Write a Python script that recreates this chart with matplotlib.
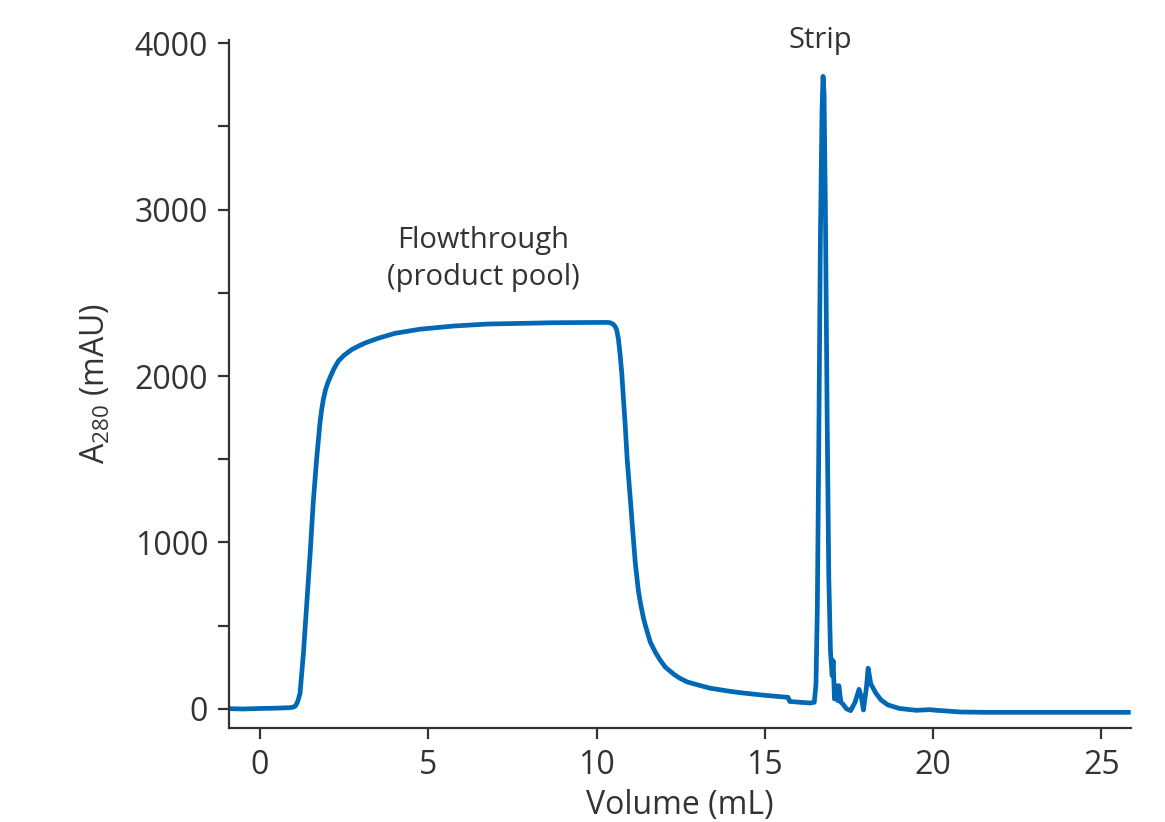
import matplotlib
matplotlib.use('Agg')
import matplotlib.pyplot as plt
from matplotlib.ticker import MultipleLocator

# traced chromatogram: volume (mL) and A280 (mAU)
volume = [-0.92, -0.5, 0.0, 0.5, 0.9, 1.0, 1.06, 1.12, 1.19, 1.29, 1.39, 1.49, 1.58, 1.68,
          1.78, 1.83, 1.88, 1.95, 2.02, 2.1, 2.2, 2.33, 2.5, 2.72, 2.95, 3.12, 3.5, 4.0,
          4.75, 5.74, 6.74, 7.73, 8.72, 9.5, 10.3, 10.38, 10.45, 10.5, 10.55, 10.60,
          10.65, 10.70, 10.75, 10.80, 10.85, 10.91, 11.0, 11.06, 11.15, 11.24, 11.3,
          11.4, 11.49, 11.6, 11.75, 11.89, 12.05, 12.3, 12.48, 12.7, 13.0, 13.37, 14.0,
          14.35, 15.0, 15.69, 15.74, 16.34, 16.47, 16.52, 16.56, 16.60, 16.65, 16.70,
          16.73, 16.76, 16.80, 16.85, 16.90, 16.95, 17.00, 17.03, 17.07, 17.12, 17.17,
          17.20, 17.26, 17.32, 17.42, 17.55, 17.68, 17.80, 17.87, 17.93, 18.02, 18.07,
          18.15, 18.30, 18.45, 18.65, 19.0, 19.5, 19.9, 20.1, 20.4, 20.8, 21.5, 23.0,
          25.8]
a280 = [2, 0, 3, 5, 8, 12, 20, 45, 94, 334, 634, 935, 1235, 1495,
        1716, 1795, 1858, 1920, 1962, 2000, 2045, 2090, 2125, 2158, 2182, 2198, 2226, 2256,
        2281, 2300, 2312, 2316, 2320, 2321, 2322, 2321, 2316, 2310, 2298, 2276,
        2222, 2130, 2016, 1860, 1710, 1500, 1270, 1110, 880, 715, 640,
        540, 474, 400, 340, 294, 250, 208, 184, 162, 145, 125, 105,
        96, 82, 70, 45, 36, 40, 150, 600, 1500, 2800, 3600,
        3800, 3700, 3000, 1800, 800, 350, 200, 290, 60, 140, 50,
        140, 40, 30, 2, -10, 40, 118, 70, -6, 130, 245,
        150, 95, 55, 25, 3, -8, -4, -8, -12, -18, -20, -20,
        -20]

blue = '#0068b5'
ink = '#333333'
plt.rcParams['font.family'] = ['Open Sans', 'DejaVu Sans']
plt.rcParams['mathtext.fontset'] = 'custom'
plt.rcParams['mathtext.rm'] = 'Open Sans'

fig = plt.figure(figsize=(11.65, 8.22), dpi=100)
ax = fig.add_axes([0.1966, 0.1144, 0.7742, 0.8369])
ax.plot(volume, a280, color=blue, linewidth=3.4, solid_joinstyle='round')

ax.set_xlim(-0.92, 25.88)
ax.set_ylim(-114, 4018)
ax.set_xticks([0, 5, 10, 15, 20, 25])
ax.set_yticks([0, 1000, 2000, 3000, 4000])
ax.yaxis.set_minor_locator(MultipleLocator(500))

for s in ['top', 'right']:
    ax.spines[s].set_visible(False)
for s in ['left', 'bottom']:
    ax.spines[s].set_color(ink)
    ax.spines[s].set_linewidth(1.6)

ax.tick_params(which='both', direction='out', length=8, width=1.6, color=ink,
               labelcolor=ink, labelsize=23, pad=7)

ax.set_xlabel('Volume (mL)', fontsize=23, color=ink, labelpad=5)
ax.set_ylabel(r'A$_{280}$ (mAU)', fontsize=23, color=ink, labelpad=16)

ax.text(16.64, 4016, 'Strip', fontsize=21, color=ink, ha='center', va='center')
ax.text(6.63, 2703, 'Flowthrough\n(product pool)', fontsize=21, color=ink,
        ha='center', va='center', linespacing=1.35)

fig.savefig('out.png', dpi=100)
